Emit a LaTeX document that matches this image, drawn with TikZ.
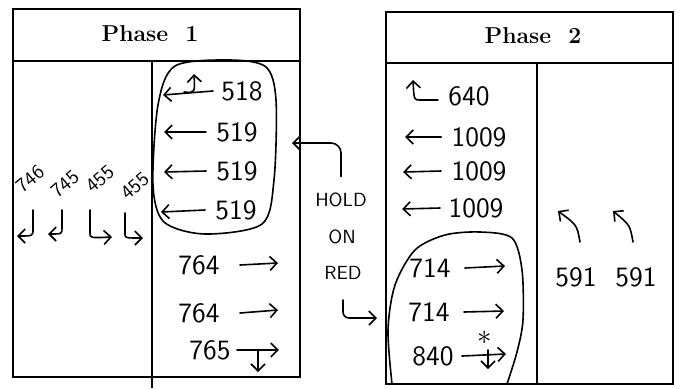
\documentclass[tikz,border=0pt]{standalone}
\usepackage{tikz}
\usetikzlibrary{arrows.meta,positioning}

\begin{document}
\begin{tikzpicture}[x=0.5pt,y=-0.5pt,
frame/.style={line width=1.3pt},
phase title/.style={font=\bfseries\fontsize{11.5}{13}\selectfont,inner sep=0pt},
count/.style={font=\sffamily\fontsize{14}{16}\selectfont,inner sep=0pt},
tilted count/.style={font=\sffamily\fontsize{10}{11}\selectfont,inner sep=0pt,rotate=40},
note/.style={font=\sffamily\fontsize{9.5}{11}\selectfont,inner sep=0pt},
hand/.style={line width=0.8pt,line cap=round,line join=round},
hand arrow/.style={hand,-{Straight Barb[length=3.5pt,width=7pt]}}]
\useasboundingbox (0,0) rectangle (681,388);
% phase 1
\draw[frame] (13,9) rectangle (300,377);
\draw[frame] (13,61) -- (300,61);
\draw[frame] (152,61) -- (152,388);
\node[phase title] (ph1) at (150,34) {Phase\ \ 1};
\node[count] (a518) at (242,91) {518};
\node[count] (a519a) at (237,132) {519};
\node[count] (a519b) at (237,171) {519};
\node[count] (a519c) at (236,210) {519};
\node[count] (t764a) at (199,265) {764};
\node[count] (t764b) at (199,313) {764};
\node[count] (t765) at (210,350) {765};
\draw[hand arrow] ([xshift=-4pt]a518.west) -- ++(-50,4);
\draw[hand arrow] (184,92) .. controls (195,93) .. (194,74);
\draw[hand arrow] ([xshift=-5pt]a519a.west) -- ++(-42,0);
\draw[hand arrow] ([xshift=-5pt]a519b.west) -- ++(-42,1);
\draw[hand arrow] ([xshift=-5pt]a519c.west) -- ++(-44,2);
\draw[hand arrow] ([xshift=10pt]t764a.east) -- ++(38,-2);
\draw[hand arrow] ([xshift=10pt]t764b.east) -- ++(38,-3);
\draw[hand arrow] ([xshift=3pt]t765.east) -- ++(42,0);
\draw[hand arrow] (258,351) -- (258,372);
\draw[hand] plot[smooth cycle] coordinates {(175,66) (230,60) (266,67) (276,100) (274,180) (262,224) (205,234) (164,222) (153,185) (158,105)};
\node[tilted count] (l746) at (30,179) {746};
\node[tilted count] (l745) at (65,184) {745};
\node[tilted count] (l455a) at (100,179) {455};
\node[tilted count] (l455b) at (135,186) {455};
\draw[hand arrow] (33,210) -- (33,229) .. controls (33,236) .. (17,236);
\draw[hand arrow] (62,210) -- (62,228) .. controls (62,234) .. (48,234);
\draw[hand arrow] (90,210) -- (90,233) .. controls (90,238) .. (112,237);
\draw[hand arrow] (125,213) -- (125,234) .. controls (125,238) .. (143,238);
% hold on red
\node[note] (hold) at (341,200) {HOLD};
\node[note] (on) at (342,237) {ON};
\node[note] (red) at (343,273) {RED};
\coordinate (p1in) at (292,143);
\coordinate (p2in) at (377,318);
\draw[hand arrow,rounded corners=5pt] ([yshift=8pt]hold.north) |- (p1in);
\draw[hand arrow,rounded corners=3pt] ([yshift=-10pt]red.south) |- (p2in);
% phase 2
\draw[frame] (386,12) rectangle (673,384);
\draw[frame] (386,63) -- (673,63);
\draw[frame] (537,63) -- (537,384);
\node[phase title] (ph2) at (533,36) {Phase\ \ 2};
\node[count] (b640) at (469,96) {640};
\node[count] (b1009a) at (479,137) {1009};
\node[count] (b1009b) at (479,171) {1009};
\node[count] (b1009c) at (476,208) {1009};
\node[count] (t714a) at (430,268) {714};
\node[count] (t714b) at (429,312) {714};
\node[count] (t840) at (433,356) {840};
\draw[hand arrow] (438,100) -- (420,100) .. controls (414,100) .. (413,80);
\draw[hand arrow] ([xshift=-5pt]b1009a.west) -- ++(-36,0);
\draw[hand arrow] ([xshift=-5pt]b1009b.west) -- ++(-38,1);
\draw[hand arrow] ([xshift=-4pt]b1009c.west) -- ++(-38,1);
\draw[hand arrow] ([xshift=7pt]t714a.east) -- ++(40,-2);
\draw[hand arrow] ([xshift=7pt]t714b.east) -- ++(40,-1);
\draw[hand arrow] ([xshift=4pt]t840.east) -- ++(44,-2);
\draw[hand arrow] (488,350) -- (488,369);
\node[font=\sffamily\fontsize{14}{16}\selectfont,inner sep=0pt] (star) at (485,338) {$\ast$};
\draw[hand] plot[smooth] coordinates {(392,384) (388,330) (395,285) (415,250) (445,235) (480,232) (512,238) (522,270) (523,320) (517,352) (507,384)};
\node[count] (c591a) at (576,277) {591};
\node[count] (c591b) at (636,277) {591};
\draw[hand arrow] (580,242) .. controls (577,225) .. (558,211);
\draw[hand arrow] (633,242) .. controls (630,225) .. (613,211);
\end{tikzpicture}
\end{document}
